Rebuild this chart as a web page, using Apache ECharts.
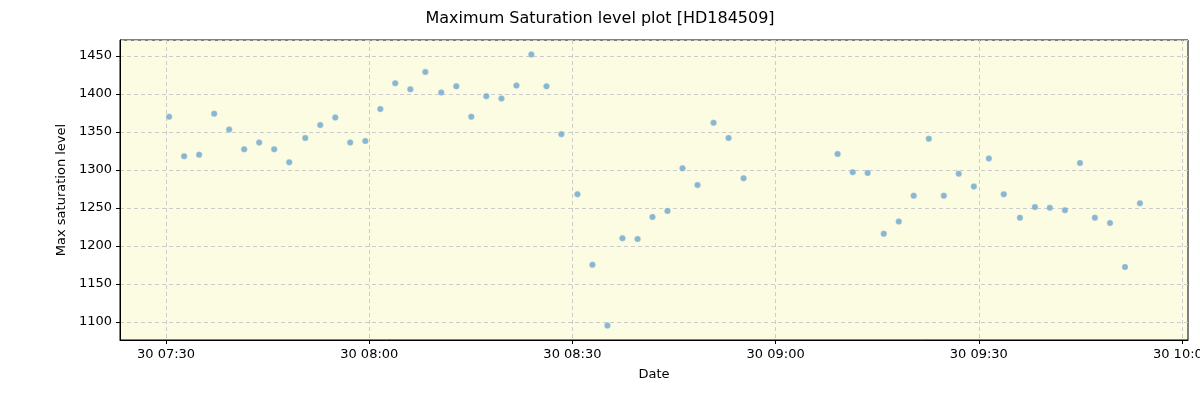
<!DOCTYPE html>
<html>
<head>
<meta charset="utf-8">
<script src="https://cdn.jsdelivr.net/npm/echarts@6/dist/echarts.min.js"></script>
<style>
  html, body { margin: 0; padding: 0; background: #fff; }
  #chart { width: 1200px; height: 400px; }
</style>
</head>
<body>
<div id="chart"></div>
<script>
var times = [
    '07:30:27', '07:32:40', '07:34:53', '07:37:06', '07:39:19', '07:41:32',
    '07:43:45', '07:45:58', '07:48:11', '07:50:33', '07:52:46', '07:54:59',
    '07:57:11', '07:59:25', '08:01:38', '08:03:50', '08:06:04', '08:08:17',
    '08:10:38', '08:12:51', '08:15:04', '08:17:17', '08:19:31', '08:21:44',
    '08:23:56', '08:26:10', '08:28:22', '08:30:44', '08:32:57', '08:35:10',
    '08:37:23', '08:39:37', '08:41:49', '08:44:02', '08:46:15', '08:48:28',
    '08:50:50', '08:53:03', '08:55:16',
    '09:09:09', '09:11:23', '09:13:35', '09:15:58', '09:18:11', '09:20:23',
    '09:22:37', '09:24:50', '09:27:02', '09:29:16', '09:31:29', '09:33:41',
    '09:36:04', '09:38:17', '09:40:29', '09:42:43', '09:44:56', '09:47:08',
    '09:49:22', '09:51:35', '09:53:47'
];

var saturation = [
    1370, 1318, 1320, 1374, 1353, 1327,
    1336, 1327, 1310, 1342, 1359, 1369,
    1336, 1338, 1380, 1414, 1406, 1429,
    1402, 1410, 1370, 1397, 1394, 1411,
    1452, 1410, 1347, 1268, 1175, 1095,
    1210, 1209, 1238, 1246, 1302, 1280,
    1362, 1342, 1289,
    1321, 1297, 1296, 1216, 1232, 1266,
    1341, 1266, 1295, 1278, 1315, 1268,
    1237, 1251, 1250, 1247, 1309, 1237,
    1230, 1172, 1256
];

// x tick positions (every 30 minutes)
var xTicks = ['07:30:00', '08:00:00', '08:30:00', '09:00:00', '09:30:00', '10:00:00'];

var day = '2021-06-30';
var xStart = '07:23:12';
var xEnd = '10:00:53';
var yMin = 1076;
var yMax = 1471;

var toMs = function(t) {
    return new Date(day + 'T' + t + 'Z').getTime();
};

var pad = function(n) {
    return (n < 10 ? '0' : '') + n;
};

var points = times.map(function(t, i) {
    return [toMs(t), saturation[i]];
});
var tickValues = xTicks.map(toMs);

var myChart = echarts.init(document.getElementById('chart'));

var labelFont = { fontFamily: 'DejaVu Sans', fontSize: 13, color: '#000' };
var gridLine = { color: '#cccccc', type: [4, 3], width: 1 };

var option = {
    animation: false,
    title: {
        text: 'Maximum Saturation level plot [HD184509]',
        left: 'center',
        top: 6,
        textStyle: { fontFamily: 'DejaVu Sans', fontSize: 16, fontWeight: 'normal', color: '#000' }
    },
    grid: {
        left: 120,
        right: 12,
        top: 40,
        bottom: 60,
        outerBoundsMode: 'none',
        containLabel: false,
        show: true,
        backgroundColor: '#fcfce2',
        borderColor: '#000',
        borderWidth: 1
    },
    xAxis: {
        type: 'value',
        min: toMs(xStart),
        max: toMs(xEnd),
        name: 'Date',
        nameLocation: 'middle',
        nameGap: 28,
        nameTextStyle: labelFont,
        axisLine: { lineStyle: { color: '#000' } },
        axisTick: { show: true, length: 4, customValues: tickValues, lineStyle: { color: '#000' } },
        axisLabel: {
            fontFamily: 'DejaVu Sans',
            fontSize: 13,
            color: '#000',
            margin: 8,
            customValues: tickValues,
            hideOverlap: false,
            formatter: function(val) {
                var d = new Date(val);
                return pad(d.getUTCDate()) + ' ' + pad(d.getUTCHours()) + ':' + pad(d.getUTCMinutes());
            }
        },
        splitLine: { show: true, lineStyle: gridLine }
    },
    yAxis: {
        type: 'value',
        min: yMin,
        max: yMax,
        splitNumber: 8,
        name: 'Max saturation level',
        nameLocation: 'middle',
        nameGap: 52,
        nameTextStyle: labelFont,
        axisLine: { show: true, lineStyle: { color: '#000' } },
        axisTick: { show: true, length: 4, lineStyle: { color: '#000' } },
        axisLabel: {
            fontFamily: 'DejaVu Sans',
            fontSize: 13,
            color: '#000',
            margin: 8,
            showMinLabel: false,
            showMaxLabel: false,
            formatter: function(v) { return String(v); }
        },
        splitLine: { show: true, lineStyle: gridLine }
    },
    series: [{
        type: 'scatter',
        data: points,
        symbolSize: 6,
        itemStyle: { color: '#6aa5cc', borderColor: '#b8d3e0', borderWidth: 0.5 }
    }]
};

myChart.setOption(option);
</script>
</body>
</html>
